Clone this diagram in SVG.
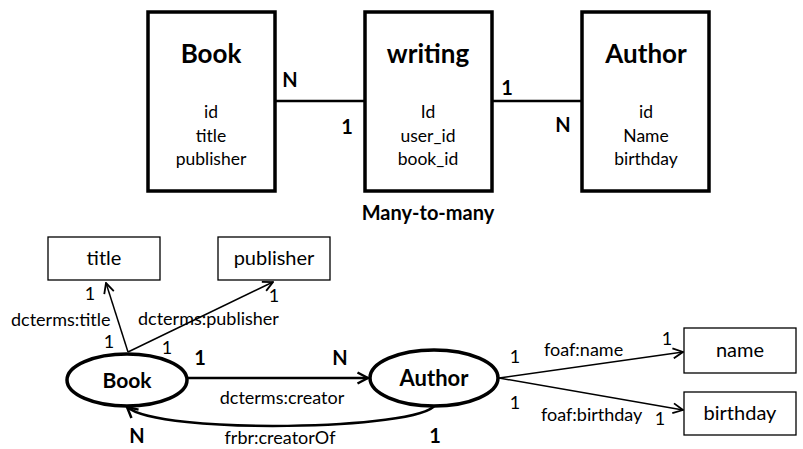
<svg xmlns="http://www.w3.org/2000/svg" width="803" height="449" viewBox="0 0 803 449">
<style>
text{font-family:Lato,"Liberation Sans",sans-serif;fill:#000}
.t{font-weight:bold;font-size:26px;text-anchor:middle}
.a{font-size:17.5px;text-anchor:middle}
.b{font-weight:bold;font-size:20px;text-anchor:middle}
.l{font-size:18px}
.bx{fill:#fff;stroke:#000;stroke-width:3.5}
.sb{fill:#fff;stroke:#000;stroke-width:1.3}
.el{fill:#fff;stroke:#000;stroke-width:3.5}
.ln{fill:none;stroke:#000;stroke-width:2.5}
.th{fill:none;stroke:#000;stroke-width:1.5}
.n{font-weight:bold;font-size:22px;text-anchor:middle}
.v{font-size:20px;text-anchor:middle}
</style>
<defs>
<marker id="ah" markerUnits="userSpaceOnUse" viewBox="0 0 12 12" refX="11" refY="6" markerWidth="12" markerHeight="12" orient="auto">
<path d="M1,1 L11,6 L1,11" fill="none" stroke="#000" stroke-width="1.8"/>
</marker>
<marker id="ahb" markerUnits="userSpaceOnUse" viewBox="0 0 14 14" refX="12.5" refY="7" markerWidth="14" markerHeight="14" orient="auto">
<path d="M2,1.5 L12.5,7 L2,12.5" fill="none" stroke="#000" stroke-width="2.5"/>
</marker>
</defs>
<g id="connectors">
<line class="ln" x1="275" y1="101" x2="365" y2="101"/>
<line class="ln" x1="492" y1="101" x2="582" y2="101"/>
<line class="th" x1="128" y1="352" x2="106" y2="283" marker-end="url(#ah)"/>
<line class="th" x1="128" y1="352" x2="273" y2="282" marker-end="url(#ah)"/>
<line class="ln" x1="188" y1="378" x2="368" y2="378" marker-end="url(#ahb)"/>
<path class="ln" d="M435,405 C420,430 160,435 127,407" marker-end="url(#ahb)"/>
<line class="th" x1="499" y1="378" x2="683" y2="352" marker-end="url(#ah)"/>
<line class="th" x1="499" y1="378" x2="683" y2="410" marker-end="url(#ah)"/>
</g>
<g id="labels">
<text class="b" x="290" y="87">N</text>
<text class="b" x="347" y="134">1</text>
<text class="b" x="507" y="95">1</text>
<text class="b" x="563" y="132">N</text>
<text class="b" x="428" y="220">Many-to-many</text>
<text class="l" x="90" y="300" text-anchor="middle">1</text>
<text class="l" x="11" y="326">dcterms:title</text>
<text class="l" x="109" y="348" text-anchor="middle">1</text>
<text class="l" x="274" y="302" text-anchor="middle">1</text>
<text class="l" x="138" y="325">dcterms:publisher</text>
<text class="l" x="167" y="354" text-anchor="middle">1</text>
<text class="b" x="200" y="365">1</text>
<text class="b" x="340" y="365">N</text>
<text class="l" x="282" y="404" text-anchor="middle">dcterms:creator</text>
<text class="b" x="137" y="443">N</text>
<text class="b" x="435" y="443">1</text>
<text class="l" x="280" y="444" text-anchor="middle">frbr:creatorOf</text>
<text class="l" x="515" y="363" text-anchor="middle">1</text>
<text class="l" x="544" y="356">foaf:name</text>
<text class="l" x="667" y="345" text-anchor="middle">1</text>
<text class="l" x="515" y="409" text-anchor="middle">1</text>
<text class="l" x="541" y="421">foaf:birthday</text>
<text class="l" x="660" y="425" text-anchor="middle">1</text>
</g>
<g id="er-book">
<rect class="bx" x="148" y="12" width="127" height="179"/>
<text class="t" x="211" y="63">Book</text>
<text class="a" x="211" y="118">id</text>
<text class="a" x="211" y="142">title</text>
<text class="a" x="211" y="165">publisher</text>
</g>
<g id="er-writing">
<rect class="bx" x="365" y="12" width="127" height="179"/>
<text class="t" x="428" y="63">writing</text>
<text class="a" x="428" y="118">Id</text>
<text class="a" x="428" y="142">user_id</text>
<text class="a" x="428" y="165">book_id</text>
</g>
<g id="er-author">
<rect class="bx" x="582" y="12" width="127" height="179"/>
<text class="t" x="646" y="63">Author</text>
<text class="a" x="646" y="118">id</text>
<text class="a" x="646" y="142">Name</text>
<text class="a" x="646" y="165">birthday</text>
</g>
<g id="rdf-title">
<rect class="sb" x="48" y="237" width="112" height="43"/>
<text class="v" x="104" y="265">title</text>
</g>
<g id="rdf-publisher">
<rect class="sb" x="218" y="237" width="112" height="43"/>
<text class="v" x="274" y="265">publisher</text>
</g>
<g id="rdf-book">
<ellipse class="el" cx="127" cy="380" rx="60" ry="26"/>
<text class="n" x="127" y="388" style="font-size:21px">Book</text>
</g>
<g id="rdf-author">
<ellipse class="el" cx="434" cy="378" rx="64" ry="28"/>
<text class="n" x="434" y="386">Author</text>
</g>
<g id="rdf-name">
<rect class="sb" x="684" y="328" width="112" height="45"/>
<text class="v" x="740" y="357">name</text>
</g>
<g id="rdf-birthday">
<rect class="sb" x="684" y="392" width="112" height="43"/>
<text class="v" x="740" y="420">birthday</text>
</g>
</svg>
